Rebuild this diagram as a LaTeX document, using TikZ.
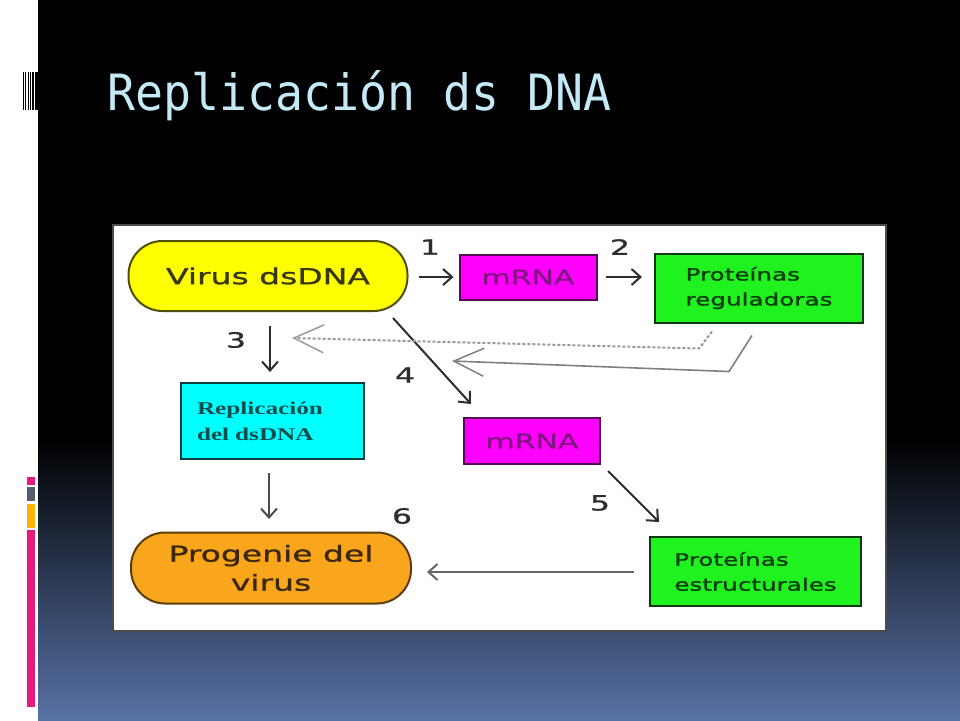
\documentclass[tikz,border=0pt]{standalone}
\usepackage{fontspec}
\usetikzlibrary{arrows.meta,calc}
\newfontfamily\titlefont[FakeStretch=0.93]{DejaVu Sans Mono}
\newfontfamily\dfont[FakeStretch=1.5, FakeBold=1]{DejaVu Sans}
\newfontfamily\gfont[FakeStretch=1.45, FakeBold=1.6]{DejaVu Sans}
\newfontfamily\serfont[FakeStretch=1.4]{Liberation Serif}
\definecolor{bgblue}{RGB}{88,114,166}
\definecolor{titlecol}{RGB}{197,234,247}
\definecolor{barpink}{RGB}{230,25,125}
\definecolor{bargray}{RGB}{80,94,110}
\definecolor{barorange}{RGB}{255,181,0}
\definecolor{yfill}{RGB}{255,255,0}
\definecolor{ydraw}{RGB}{80,80,10}
\definecolor{ytext}{RGB}{55,55,10}
\definecolor{mfill}{RGB}{255,0,255}
\definecolor{mdraw}{RGB}{85,10,85}
\definecolor{mtext}{RGB}{130,20,130}
\definecolor{gfill}{RGB}{32,242,32}
\definecolor{gdraw}{RGB}{12,55,12}
\definecolor{gtext}{RGB}{10,62,10}
\definecolor{cfill}{RGB}{0,255,255}
\definecolor{cdraw}{RGB}{12,60,60}
\definecolor{ctext}{RGB}{12,78,78}
\definecolor{ofill}{RGB}{250,166,28}
\definecolor{odraw}{RGB}{92,62,10}
\definecolor{otext}{RGB}{60,40,8}
\definecolor{arrcol}{RGB}{45,45,45}
\tikzset{
  box/.style={draw, line width=2pt, inner sep=0pt},
  stadium/.style={box, rounded corners=34pt},
  bigtext/.style={font=\dfont\fontsize{22}{29}\selectfont},
  smalltext/.style={font=\gfont\fontsize{17}{25}\selectfont, align=left},
  lbl/.style={font=\dfont\fontsize{21}{21}\selectfont, text=arrcol, inner sep=0pt},
  arr/.style={draw=arrcol, line width=2pt, -{Straight Barb[length=9pt,width=16pt]}},
  fbhead/.style={-{Straight Barb[length=30pt,width=28pt,line width=1.5pt]}}
}
\begin{document}
\begin{tikzpicture}[x=1pt,y=-1pt]
\useasboundingbox (0,0) rectangle (960,720);
% background
\fill[white] (0,0) rectangle (38,720);
\fill[black] (38,0) rectangle (960,440);
\shade[top color=black, bottom color=bgblue] (38,439) rectangle (960,720);
% barcode
\foreach \a/\b in {23/24, 25/26, 27.5/28.5, 30/31, 32/34, 35/38}
  \fill[black] (\a,72) rectangle (\b,110);
% colour bars
\fill[barpink] (27,477) rectangle (35,485);
\fill[bargray] (27,487) rectangle (35,501);
\fill[barorange] (27,504) rectangle (35,528);
\fill[barpink] (27,530) rectangle (35,707);
% title
\node[anchor=base west, inner sep=0pt, text=titlecol, font=\titlefont\fontsize{50}{50}\selectfont] (title) at (107,110) {Replicación ds DNA};
% diagram frame
\draw[fill=white, draw=black!70, line width=2pt] (113,225) rectangle (886,631);
% nodes
\node[stadium, fill=yfill, draw=ydraw, minimum width=279pt, minimum height=70pt, bigtext, text=ytext] (vir) at (268,276) {Virus dsDNA};
\node[box, fill=mfill, draw=mdraw, minimum width=137pt, minimum height=45pt, font=\dfont\fontsize{20}{20}\selectfont, text=mtext] (m1) at (528,277) {mRNA};
\node[box, fill=gfill, draw=gdraw, minimum width=208pt, minimum height=69pt, smalltext, text=gtext] (pr) at (759,288) {Proteínas\\reguladoras};
\node[box, fill=cfill, draw=cdraw, minimum width=183pt, minimum height=76pt, text width=151pt, inner xsep=16pt, font=\serfont\bfseries\fontsize{18}{26}\selectfont, align=left, text=ctext] (rep) at (272.5,421) {Replicación\\del dsDNA};
\node[box, fill=mfill, draw=mdraw, minimum width=136pt, minimum height=46pt, font=\dfont\fontsize{20}{20}\selectfont, text=mtext] (m2) at (532,441) {mRNA};
\node[box, fill=gfill, draw=gdraw, minimum width=211pt, minimum height=69pt, smalltext, text=gtext] (pe) at (755.5,571.5) {Proteínas\\estructurales};
\node[stadium, fill=ofill, draw=odraw, minimum width=280pt, minimum height=71pt, bigtext, align=center, text=otext] (prog) at (271,568) {Progenie del\\virus};
% labels
\node[lbl] (l1) at (430,247) {1};
\node[lbl] (l2) at (620,247) {2};
\node[lbl] (l3) at (236,340) {3};
\node[lbl] (l4) at (405,375) {4};
\node[lbl] (l5) at (600,503) {5};
\node[lbl] (l6) at (402,516) {6};
% connectors
\draw[arr] ($(vir.east)+(10,1)$) -- ($(m1.west)+(-5,0)$);
\draw[arr] ($(m1.east)+(8.5,0)$) -- ($(m1.east -| pr.west)+(-12,0)$);
\draw[arr] ($(vir.south)+(2,14)$) -- ($(rep.north)+(-2.5,-10)$);
\draw[arr] ($(vir.south east)+(-15.5,6)$) -- ($(m2.north west)+(8,-13)$);
\draw[arr] ($(m2.south east)+(7,6)$) -- ($(pe.north west)+(10,-14)$);
\draw[arr, draw=black!70] ($(rep.south)+(-3.5,13)$) -- ($(prog.north)+(-2,-12.5)$);
\draw[arr, draw=black!60] ($(pe.west)+(-15,0.5)$) -- ($(pe.west -| prog.east)+(15,0.5)$);
% feedback arrows
\coordinate (d1) at ($(pr.south west)+(58,8)$);
\coordinate (d2) at ($(pr.south west)+(45,25)$);
\coordinate (d3) at ($(vir.south)+(24,26)$);
\draw[draw=black!40, line width=2pt, dash pattern=on 3pt off 2pt, fbhead] (d1) -- (d2) -- (d3);
\coordinate (s1) at ($(pr.south west)+(98,12)$);
\coordinate (s2) at ($(pr.south west)+(75,48)$);
\coordinate (s3) at ($(m1.south west)+(-6.5,60.5)$);
\draw[draw=black!50, line width=1.6pt, fbhead] (s1) -- (s2) -- (s3);
\end{tikzpicture}
\end{document}
